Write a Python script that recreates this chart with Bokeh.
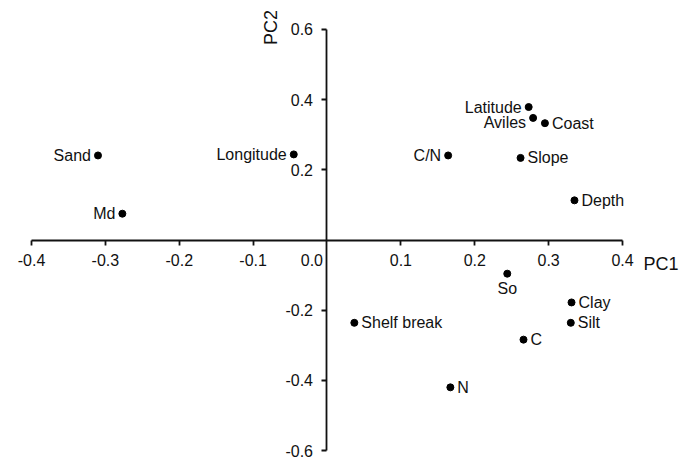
import math
from bokeh.plotting import figure
from bokeh.models import ColumnDataSource, LinearAxis, FixedTicker, PrintfTickFormatter
from bokeh.core.properties import value
from bokeh.embed import file_html
from bokeh.resources import INLINE

# ---- data (PCA loadings) ----
variables = ["Sand", "Md", "Longitude", "C/N", "Latitude", "Aviles", "Coast", "Slope",
             "Depth", "So", "Clay", "Silt", "C", "Shelf break", "N"]
pc1 = [-0.310, -0.277, -0.045, 0.164, 0.273, 0.279, 0.295, 0.262,
       0.335, 0.244, 0.331, 0.330, 0.266, 0.037, 0.167]
pc2 = [0.241, 0.075, 0.244, 0.241, 0.379, 0.348, 0.333, 0.234,
       0.113, -0.096, -0.178, -0.236, -0.284, -0.236, -0.420]
label_side = ["left", "left", "left", "left", "left", "left-low", "right", "right",
              "right", "below", "right", "right", "right", "right", "right"]

x_ticks = [-0.4, -0.3, -0.2, -0.1, 0.1, 0.2, 0.3, 0.4]
x_tick_labels = ["-0.4", "-0.3", "-0.2", "-0.1", "0.1", "0.2", "0.3", "0.4"]
y_ticks = [-0.6, -0.4, -0.2, 0.2, 0.4, 0.6]
y_tick_labels = ["-0.6", "-0.4", "-0.2", "0.2", "0.4", "0.6"]
origin_label = "0.0"
x_title = "PC1"
y_title = "PC2"

FONT = "Liberation Sans"
INK = "#111111"

p = figure(width=696, height=459,
           x_range=(-0.44196, 0.50017), y_range=(-0.62565, 0.68266),
           output_backend="svg", toolbar_location=None,
           x_axis_location=None, y_axis_location=None, min_border=0)
p.outline_line_color = None
p.xgrid.grid_line_color = None
p.ygrid.grid_line_color = None
p.background_fill_color = "white"
p.border_fill_color = "white"

# axes crossing at the origin
xaxis = LinearAxis(fixed_location=0, bounds=(x_ticks[0], x_ticks[-1]),
                   ticker=FixedTicker(ticks=x_ticks),
                   formatter=PrintfTickFormatter(format="%.1f"),
                   major_label_overrides=dict(zip(x_ticks, x_tick_labels)))
yaxis = LinearAxis(fixed_location=0, bounds=(y_ticks[0], y_ticks[-1]),
                   ticker=FixedTicker(ticks=y_ticks),
                   formatter=PrintfTickFormatter(format="%.1f"),
                   major_label_overrides=dict(zip(y_ticks, y_tick_labels)))
for ax in (xaxis, yaxis):
    ax.axis_line_color = INK
    ax.axis_line_width = 1.8
    ax.major_tick_line_color = INK
    ax.major_tick_line_width = 1.8
    ax.major_tick_in = 0
    ax.major_tick_out = 5
    ax.minor_tick_line_color = None
    ax.major_label_text_font = FONT
    ax.major_label_text_font_size = "16px"
    ax.major_label_text_color = INK
    ax.major_label_standoff = 9
p.add_layout(xaxis, "below")
p.add_layout(yaxis, "left")

# points
src = ColumnDataSource(dict(x=pc1, y=pc2, name=variables))
p.scatter("x", "y", source=src, size=7, fill_color="black", line_color="black")

# labels
align, xoff, yoff, base = [], [], [], []
for s in label_side:
    if s == "left":
        align.append("right"); xoff.append(-7); yoff.append(0); base.append("middle")
    elif s == "left-low":
        align.append("right"); xoff.append(-7); yoff.append(5); base.append("middle")
    elif s == "right":
        align.append("left"); xoff.append(7); yoff.append(0); base.append("middle")
    else:
        align.append("center"); xoff.append(0); yoff.append(6); base.append("top")
lsrc = ColumnDataSource(dict(x=pc1, y=pc2, text=variables, align=align,
                             xoff=xoff, yoff=yoff, base=base))
p.text("x", "y", text="text", source=lsrc, text_align="align", text_baseline="base",
       x_offset="xoff", y_offset="yoff", text_font=value(FONT),
       text_font_size="16px", text_color=INK)

# origin label, axis titles
p.text(x=[0], y=[0], text=[origin_label], text_align="right", text_baseline="top",
       x_offset=-4, y_offset=14, text_font=value(FONT), text_font_size="16px",
       text_color=INK)
p.text(x=[x_ticks[-1]], y=[0], text=[x_title], text_align="left", text_baseline="middle",
       x_offset=21, y_offset=24, text_font=value(FONT), text_font_size="18px",
       text_color=INK)
p.text(x=[0], y=[y_ticks[-1]], text=[y_title], text_align="center", text_baseline="middle",
       angle=math.pi / 2, x_offset=-56, y_offset=-2, text_font=value(FONT),
       text_font_size="18px", text_color=INK)

open("out.html", "w").write(file_html(p, INLINE))
